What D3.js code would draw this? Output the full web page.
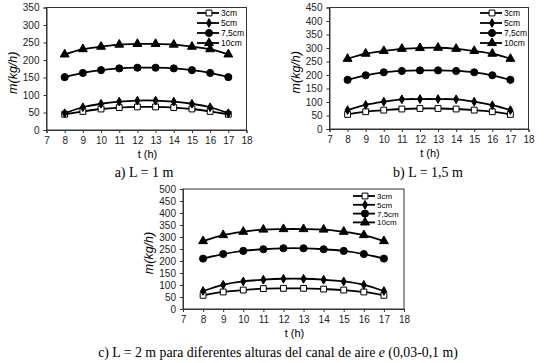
<!DOCTYPE html>
<html>
<head>
<meta charset="utf-8">
<script src="https://cdn.jsdelivr.net/npm/d3@7"></script>
<style>
  body { margin: 0; background: #fff; }
  svg { display: block; }
</style>
</head>
<body>
<svg id="fig" width="544" height="363"></svg>
<script>
// hours of the day
const hours = [8, 9, 10, 11, 12, 13, 14, 15, 16, 17];
const seriesNames = ['3cm', '5cm', '7,5cm', '10cm'];

// a) L = 1 m
const a_3cm = [45, 53, 60, 64, 66, 66, 64, 60, 53, 45];
const a_5cm = [48, 65, 75, 81, 84, 84, 81, 75, 65, 48];
const a_75cm = [151, 163, 171, 176, 178, 178, 176, 171, 163, 151];
const a_10cm = [216, 231, 238, 244, 246, 246, 244, 238, 231, 216];

// b) L = 1,5 m
const b_3cm = [54, 64, 70, 74, 76, 76, 74, 70, 64, 54];
const b_5cm = [70, 89, 101, 110, 111, 111, 110, 101, 88, 70];
const b_75cm = [182, 199, 210, 215, 217, 217, 215, 210, 199, 182];
const b_10cm = [260, 279, 289, 297, 300, 301, 297, 289, 279, 260];

// c) L = 2 m
const c_3cm = [57, 71, 79, 85, 86, 86, 83, 79, 71, 57];
const c_5cm = [75, 101, 115, 122, 126, 126, 122, 115, 101, 75];
const c_75cm = [210, 229, 242, 249, 253, 253, 249, 242, 229, 210];
const c_10cm = [283, 308, 322, 331, 333, 333, 331, 322, 308, 283];

const xTicks = [7, 8, 9, 10, 11, 12, 13, 14, 15, 16, 17, 18];
const yTicksA = [0, 50, 100, 150, 200, 250, 300, 350];
const yTicksB = [0, 50, 100, 150, 200, 250, 300, 350, 400, 450];
const yTicksC = [0, 50, 100, 150, 200, 250, 300, 350, 400, 450, 500];

const captionA = 'a) L = 1 m';
const captionB = 'b) L = 1,5 m';
const captionC = 'c) L = 2 m para diferentes alturas del canal de aire ';

const svg = d3.select('#fig');
const sans = 'Liberation Sans, Arial, sans-serif';

const markers = [
    { type: d3.symbolSquare, size: 34, fill: '#fff' },
    { type: d3.symbolDiamond, size: 22, fill: '#000' },
    { type: d3.symbolCircle, size: 40, fill: '#000' },
    { type: d3.symbolTriangle, size: 34, fill: '#000' }
];

function drawPanel(box, yTicks, series, legend) {
    const g = svg.append('g');
    const x = d3.scaleLinear().domain([7, 18]).range([box.left, box.right]);
    const y = d3.scaleLinear().domain([0, d3.max(yTicks)]).range([box.bottom, box.top]);

    // frame
    g.append('rect')
        .attr('x', box.left).attr('y', box.top)
        .attr('width', box.right - box.left).attr('height', box.bottom - box.top)
        .attr('fill', 'none').attr('stroke', '#333').attr('stroke-width', 1);

    const xAxis = g.append('g')
        .attr('transform', 'translate(0,' + box.bottom + ')')
        .call(d3.axisBottom(x).tickValues(xTicks).tickSize(3).tickPadding(4));
    const yAxis = g.append('g')
        .attr('transform', 'translate(' + box.left + ',0)')
        .call(d3.axisLeft(y).tickValues(yTicks).tickSize(3).tickPadding(4));
    [xAxis, yAxis].forEach(ax => {
        ax.select('.domain').attr('stroke', '#333');
        ax.selectAll('line').attr('stroke', '#333');
        ax.selectAll('text')
            .attr('font-family', sans)
            .attr('font-size', 10).attr('fill', '#222');
    });

    const line = d3.line()
        .x((d, i) => x(hours[i]))
        .y(d => y(d))
        .curve(d3.curveCatmullRom.alpha(0.5));

    series.forEach((vals, k) => {
        g.append('path')
            .datum(vals)
            .attr('fill', 'none')
            .attr('stroke', '#000')
            .attr('stroke-width', 1.8)
            .attr('d', line);
        g.selectAll(null)
            .data(vals)
            .enter().append('path')
            .attr('transform', (d, i) => 'translate(' + x(hours[i]) + ',' + y(d) + ')')
            .attr('d', d3.symbol().type(markers[k].type).size(markers[k].size))
            .attr('fill', markers[k].fill)
            .attr('stroke', '#000')
            .attr('stroke-width', 1);
    });

    // axis titles
    g.append('text')
        .attr('x', (box.left + box.right) / 2 + 1)
        .attr('y', box.bottom + 28)
        .attr('text-anchor', 'middle')
        .attr('font-family', sans)
        .attr('font-size', 11)
        .text('t (h)');
    g.append('text')
        .attr('transform', 'translate(' + (box.left - 30) + ',' + ((box.top + box.bottom) / 2 + 4) + ') rotate(-90)')
        .attr('text-anchor', 'middle')
        .attr('font-family', sans)
        .attr('font-size', 12.5)
        .attr('font-style', 'italic')
        .text('m(kg/h)');

    // legend
    seriesNames.forEach((name, k) => {
        const ly = legend.y + k * legend.step;
        g.append('line')
            .attr('x1', legend.x).attr('x2', legend.x + 22)
            .attr('y1', ly).attr('y2', ly)
            .attr('stroke', '#000').attr('stroke-width', 1.8);
        g.append('path')
            .attr('transform', 'translate(' + (legend.x + 12) + ',' + ly + ')')
            .attr('d', d3.symbol().type(markers[k].type).size(markers[k].size))
            .attr('fill', markers[k].fill)
            .attr('stroke', '#000').attr('stroke-width', 1);
        g.append('text')
            .attr('x', legend.x + 24).attr('y', ly + 3)
            .attr('font-family', sans)
            .attr('font-size', legend.font)
            .text(name);
    });
}

drawPanel({ left: 46.5, right: 246.5, top: 7.5, bottom: 130 }, yTicksA,
    [a_3cm, a_5cm, a_75cm, a_10cm], { x: 197, y: 13, step: 10, font: 8.5 });
drawPanel({ left: 329.5, right: 528.5, top: 7.5, bottom: 129 }, yTicksB,
    [b_3cm, b_5cm, b_75cm, b_10cm], { x: 480, y: 13, step: 10, font: 8.5 });
drawPanel({ left: 183, right: 404, top: 189, bottom: 309 }, yTicksC,
    [c_3cm, c_5cm, c_75cm, c_10cm], { x: 353, y: 196, step: 8.8, font: 8 });

// captions
function caption(xc, yc, size, txt, fitWidth, italicPart, tail) {
    const g = svg.append('g').attr('transform', 'translate(' + xc + ',' + yc + ')');
    const t = g.append('text')
        .attr('text-anchor', 'middle')
        .attr('font-family', 'Liberation Serif, Times New Roman, serif')
        .attr('font-size', size)
        .text(txt);
    if (italicPart) {
        t.append('tspan').attr('font-style', 'italic').text(italicPart);
        t.append('tspan').text(tail);
    }
    if (fitWidth) {
        // the source caption is set a little narrower than the font
        const w = t.node().getComputedTextLength();
        g.attr('transform', 'translate(' + xc + ',' + yc + ') scale(' + (fitWidth / w) + ',1)');
    }
}
caption(144, 177, 14, captionA);
caption(428, 177, 14, captionB);
caption(278, 357, 14, captionC, 360, 'e', ' (0,03-0,1 m)');
</script>
</body>
</html>
